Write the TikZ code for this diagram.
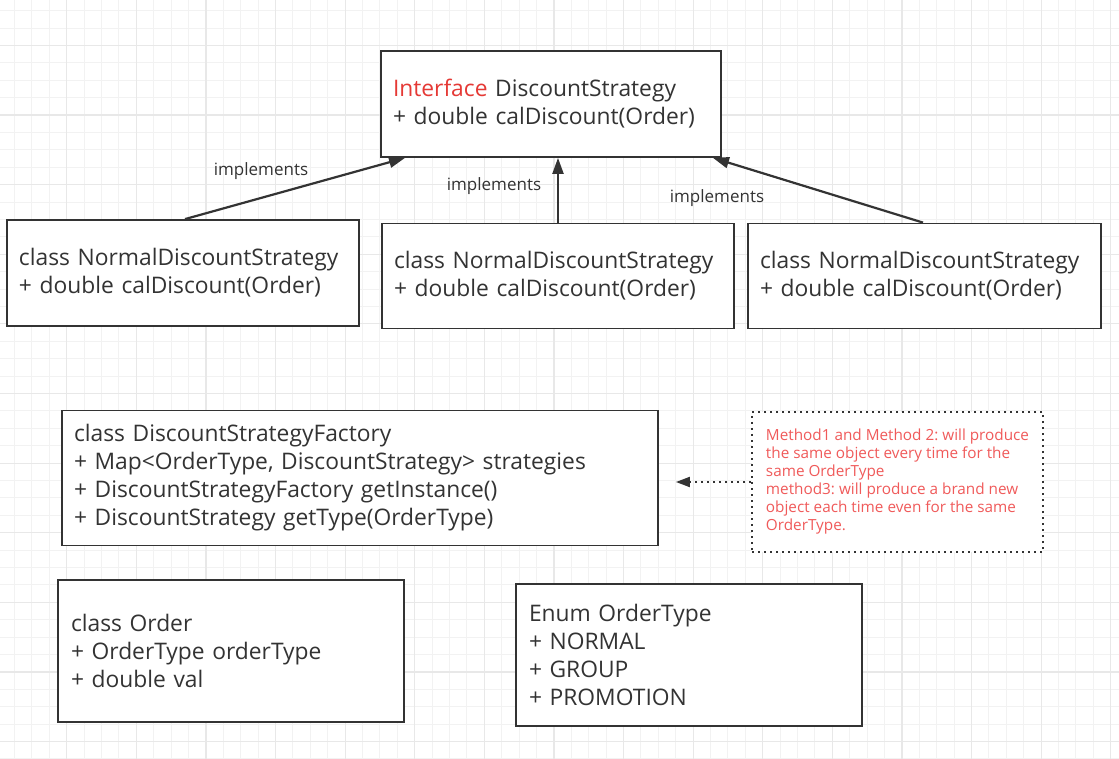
\documentclass[tikz,border=0pt]{standalone}
\usepackage{fontspec}
\setmainfont{Open Sans}
\usetikzlibrary{arrows.meta,calc}
\definecolor{ink}{HTML}{333333}
\definecolor{redword}{HTML}{E53935}
\definecolor{notered}{HTML}{F05A5A}
\definecolor{gridminor}{HTML}{F2F2F2}
\definecolor{gridmajor}{HTML}{E8E8E8}
\frenchspacing
\hyphenpenalty=10000
\tikzset{
  umlbox/.style={draw=ink, line width=1.8pt, fill=white, inner xsep=12pt, inner ysep=0pt,
    align=left, text=ink, font=\fontsize{22.8}{28}\selectfont},
  notebox/.style={draw=ink, line width=2pt, dash pattern=on 2pt off 4pt, fill=white,
    inner xsep=0pt, inner ysep=0pt, align=left, text=notered, font=\fontsize{15.3}{18}\selectfont},
  impl/.style={draw=ink, line width=2.2pt, -{Triangle[length=16pt,width=11pt]}},
  dotarrow/.style={draw=ink, line width=2pt, dash pattern=on 2pt off 4pt, -{Triangle[length=14pt,width=10pt]}},
  lbl/.style={text=ink, font=\fontsize{17}{20}\selectfont, inner sep=0pt},
}
\begin{document}
\begin{tikzpicture}[x=1pt,y=-1pt]
\useasboundingbox (0,0) rectangle (1119,759);
\fill[white] (0,0) rectangle (1119,759);
% grid
\foreach \i in {0,...,64}{
  \pgfmathsetmacro{\xx}{14.5+17.4*\i}
  \draw[gridminor, line width=1pt] (\xx,0) -- (\xx,759);
}
\foreach \j in {0,...,43}{
  \pgfmathsetmacro{\yy}{10.7+17.4*\j}
  \draw[gridminor, line width=1pt] (0,\yy) -- (1119,\yy);
}
\foreach \i in {0,...,16}{
  \pgfmathsetmacro{\xx}{14.5+17.4*(4*\i+3)}
  \draw[gridmajor, line width=1.2pt] (\xx,0) -- (\xx,759);
}
\foreach \j in {0,...,10}{
  \pgfmathsetmacro{\yy}{10.7+17.4*(4*\j+2)}
  \draw[gridmajor, line width=1.2pt] (0,\yy) -- (1119,\yy);
}
% boxes
\node[umlbox, minimum width=340pt, minimum height=106pt, text width=316pt] (iface) at (551,104)
  {{\color{redword}Interface} DiscountStrategy\\+ double calDiscount(Order)};
\node[umlbox, minimum width=352pt, minimum height=106pt, text width=328pt] (nds1) at (183,273)
  {class NormalDiscountStrategy\\+ double calDiscount(Order)};
\node[umlbox, minimum width=352pt, minimum height=105pt, text width=328pt] (nds2) at (558,276)
  {class NormalDiscountStrategy\\+ double calDiscount(Order)};
\node[umlbox, minimum width=353pt, minimum height=105pt, text width=329pt] (nds3) at (924.5,276)
  {class NormalDiscountStrategy\\+ double calDiscount(Order)};
\node[umlbox, minimum width=596pt, minimum height=135pt, text width=572pt] (factory) at (360,478)
  {class DiscountStrategyFactory\\+ Map<OrderType, DiscountStrategy> strategies\\+ DiscountStrategyFactory getInstance()\\+ DiscountStrategy getType(OrderType)};
\node[notebox, minimum width=291pt, minimum height=140pt] (note) at (897.5,482)
  {Method1 and Method 2: will produce\\the same object every time for the\\same OrderType\\method3: will produce a brand new\\object each time even for the same\\OrderType.};
\node[umlbox, minimum width=346pt, minimum height=142pt, text width=320pt] (order) at (231,651)
  {class Order\\+ OrderType orderType\\+ double val};
\node[umlbox, minimum width=346pt, minimum height=142pt, text width=320pt] (enum) at (689,655)
  {Enum OrderType\\+ NORMAL\\+ GROUP\\+ PROMOTION};
% connectors
\draw[impl] ([xshift=2pt]nds1.north) -- ([xshift=-146pt]iface.south);
\draw[impl] (nds2.north) -- (nds2.north |- iface.south);
\draw[impl] ([xshift=-1.5pt]nds3.north) -- ([xshift=162pt]iface.south);
\path ([xshift=17pt]factory.east |- note.west) coordinate (dtip);
\draw[dotarrow] (note.west) -- (dtip);
% labels
\node[lbl] (l1) at (261,171) {implements};
\node[lbl] (l2) at (494,186) {implements};
\node[lbl] (l3) at (717,198) {implements};
\end{tikzpicture}
\end{document}
